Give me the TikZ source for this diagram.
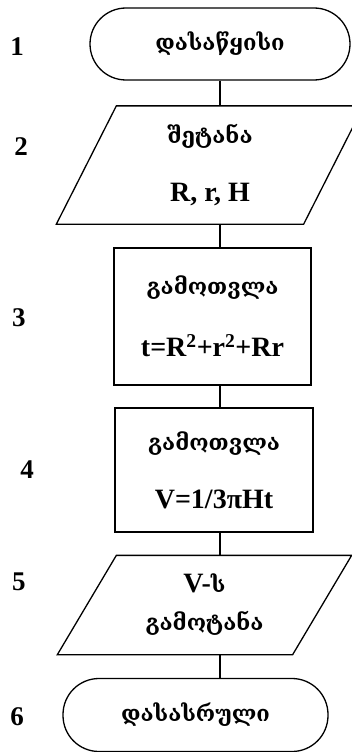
\documentclass[tikz,border=0pt]{standalone}
\usepackage{fontspec}
\setmainfont{Liberation Serif}
\newfontfamily\geo{DejaVu Serif}
\usetikzlibrary{calc}

% Georgian words in the blocks
\newcommand{\geotext}[1]{{\geo\bfseries\fontsize{22}{26}\selectfont #1}}

\begin{document}
\begin{tikzpicture}[x=1pt, y=-1pt, line width=1.3pt,
  every node/.style={font=\fontsize{28}{30}\selectfont\bfseries, inner sep=0pt, align=center},
  term/.style={draw, rounded corners=36pt},
  proc/.style={draw},
  num/.style={font=\fontsize{27}{27}\selectfont\bfseries}]
  \useasboundingbox (0,0) rectangle (351,752);

  % line through all connectors
  \coordinate (axis) at (220,0);

  % Blocks
  \node[term, minimum width=260, minimum height=72] (start) at (220,44) {\geotext{დასაწყისი}};
  \node[minimum width=246, minimum height=117] (in) at (210,165) {\geotext{შეტანა}\\[28pt] R, r, H};
  \node[proc, minimum width=197, minimum height=137] (calc1) at (212.5,316.5) {\geotext{გამოთვლა}\\[32pt] t=R\textsuperscript{2}+r\textsuperscript{2}+Rr};
  \node[proc, minimum width=198, minimum height=124] (calc2) at (214,470) {\geotext{გამოთვლა}\\[28pt] V=1/3πHt};
  \node[minimum width=234, minimum height=98] (out) at (204.5,605) {V-\geotext{ს}\\[8pt] \geotext{გამოტანა}};
  \node[term, minimum width=265, minimum height=73] (stop) at (195.5,715) {\geotext{დასასრული}};

  % Parallelograms for input and output
  \draw ($(in.south west)+(-30,0)$) -- ($(in.south east)+(-30,0)$)
    -- ($(in.north east)+(30,0)$) -- ($(in.north west)+(30,0)$) -- cycle;
  \draw ($(out.south west)+(-29.5,0)$) -- ($(out.south east)+(-29.5,0)$)
    -- ($(out.north east)+(29.5,0)$) -- ($(out.north west)+(29.5,0)$) -- cycle;

  % Connectors
  \draw (start.south -| axis) -- (in.north -| axis);
  \draw (in.south -| axis) -- (calc1.north -| axis);
  \draw (calc1.south -| axis) -- (calc2.north -| axis);
  \draw (calc2.south -| axis) -- (out.north -| axis);
  \draw (out.south -| axis) -- (stop.north -| axis);

  % Step numbers
  \node[num] (n1) at (17,47) {1};
  \node[num] (n2) at (21,147) {2};
  \node[num] (n3) at (19,318) {3};
  \node[num] (n4) at (27,470) {4};
  \node[num] (n5) at (19,582) {5};
  \node[num] (n6) at (17,717) {6};
\end{tikzpicture}
\end{document}
